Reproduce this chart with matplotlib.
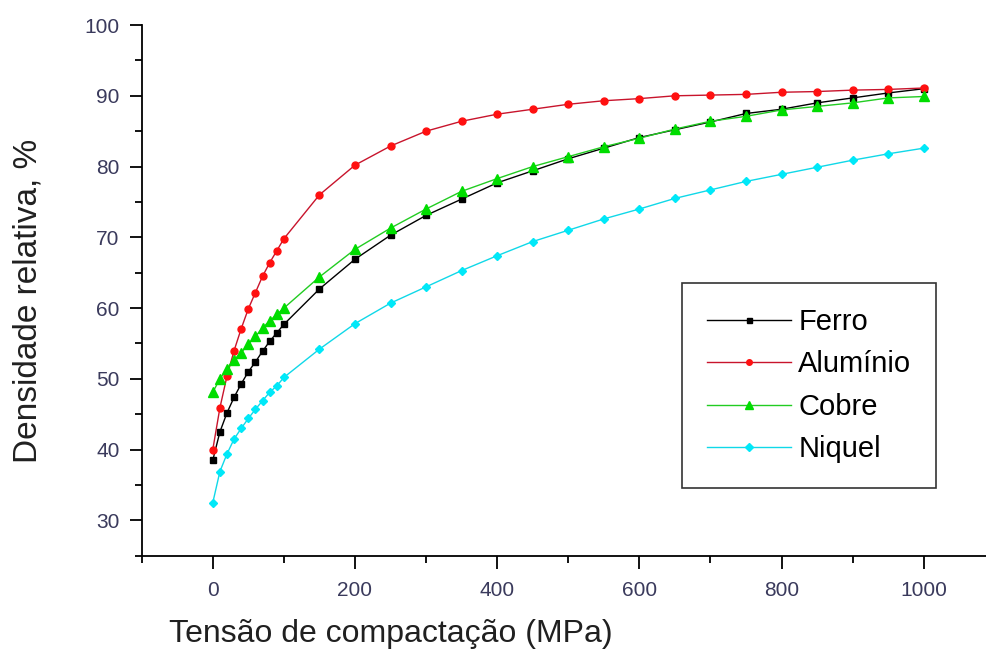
import matplotlib
matplotlib.use("Agg")
import matplotlib.pyplot as plt
from matplotlib.ticker import MultipleLocator

plt.rcParams['font.family'] = ['Liberation Sans', 'DejaVu Sans']

# pressao de compactacao (MPa)
tensao = [0, 10, 20, 30, 40, 50, 60, 70, 80, 90, 100,
          150, 200, 250, 300, 350, 400, 450, 500, 550, 600,
          650, 700, 750, 800, 850, 900, 950, 1000]

ferro = [38.5, 42.5, 45.2, 47.4, 49.3, 51.0, 52.4, 53.9, 55.3, 56.5, 57.7,
         62.7, 66.9, 70.3, 73.1, 75.4, 77.7, 79.4, 81.1, 82.6, 84.1,
         85.2, 86.3, 87.5, 88.1, 89.0, 89.7, 90.4, 91.0]

aluminio = [40.0, 45.9, 50.4, 54.0, 57.1, 59.9, 62.2, 64.5, 66.4, 68.1, 69.8,
            76.0, 80.2, 82.9, 85.0, 86.4, 87.4, 88.1, 88.8, 89.3, 89.6,
            90.0, 90.1, 90.2, 90.5, 90.6, 90.8, 90.9, 91.1]

cobre = [48.1, 50.0, 51.4, 52.7, 53.7, 54.9, 56.0, 57.2, 58.2, 59.1, 60.0,
         64.4, 68.3, 71.3, 74.0, 76.5, 78.3, 80.0, 81.4, 82.8, 84.0,
         85.3, 86.4, 87.1, 88.0, 88.5, 89.0, 89.7, 89.9]

niquel = [32.5, 36.9, 39.4, 41.5, 43.0, 44.4, 45.7, 46.9, 48.1, 49.0, 50.2,
          54.2, 57.8, 60.7, 63.0, 65.3, 67.4, 69.4, 71.0, 72.6, 74.0,
          75.5, 76.7, 77.9, 78.9, 79.9, 80.9, 81.8, 82.6]

fig = plt.figure(figsize=(9.86, 6.5), dpi=100)
ax = fig.add_axes([0.1437, 0.145, 0.8653, 0.8165])

ax.plot(tensao, ferro, color='black', lw=1.0, marker='s', ms=4.5,
        label='Ferro')
ax.plot(tensao, aluminio, color='#c8142c', lw=1.0, marker='o', ms=5,
        mfc='#ff1010', mec='#ff1010', label='Alumínio')
ax.plot(tensao, cobre, color='#22cc22', lw=1.0, marker='^', ms=6.5,
        mfc='#00dd00', mec='#00dd00', label='Cobre')
ax.plot(tensao, niquel, color='#10d8e8', lw=1.0, marker='D', ms=4.5,
        mfc='#00e8f8', mec='#00e8f8', label='Niquel')

ax.set_xlim(-100, 1100)
ax.set_ylim(25, 100)
ax.xaxis.set_major_locator(MultipleLocator(200))
ax.xaxis.set_minor_locator(MultipleLocator(100))
ax.yaxis.set_major_locator(MultipleLocator(10))
ax.yaxis.set_minor_locator(MultipleLocator(5))

ax.spines['top'].set_visible(False)
ax.spines['right'].set_visible(False)
for s in ['left', 'bottom']:
    ax.spines[s].set_linewidth(1.3)

tick_col = '#3a3a5c'
ax.tick_params(which='major', length=9, width=1.3, direction='out',
               labelsize=15, labelcolor=tick_col)
ax.tick_params(which='minor', length=5, width=1.3, direction='out')
ax.tick_params(axis='x', pad=9)
ax.tick_params(axis='y', pad=7)

fig.text(391 / 986, 1 - 642 / 650, 'Tensão de compactação (MPa)',
         fontsize=23, ha='center', va='baseline', color='#202020')
fig.text(28 / 986, 1 - 301 / 650, 'Densidade relativa, %',
         fontsize=24, ha='center', va='center', rotation=90, color='#202020')

leg = ax.legend(loc='upper left', bbox_to_anchor=(0.633, 0.514),
                fontsize=21, frameon=True, fancybox=False, edgecolor='black',
                handlelength=2.9, handletextpad=0.25, labelspacing=0.5,
                borderpad=0.85, borderaxespad=0, markerscale=0.8)
leg.get_frame().set_linewidth(1.2)

fig.savefig('out.png', dpi=100)
